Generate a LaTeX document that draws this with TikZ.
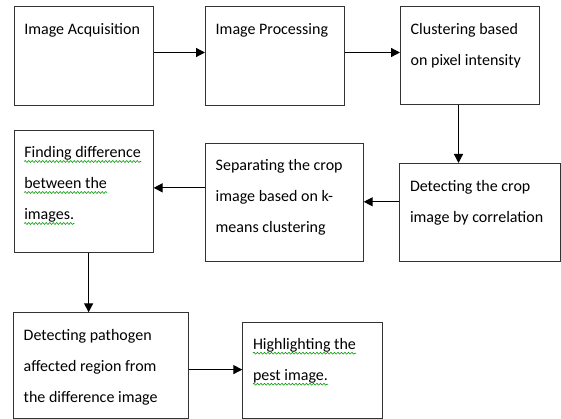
\documentclass[tikz,border=0pt]{standalone}
\usepackage{fontspec}
\setmainfont{Carlito}
\usepackage{tikz}
\usetikzlibrary{arrows.meta,positioning,decorations.pathmorphing}

\begin{document}
\begin{tikzpicture}[x=1pt,y=-1pt,
		pbox/.style={draw=black!80,line width=1pt,inner sep=0pt,anchor=north west},
		ptext/.style={anchor=north west,inner sep=0pt,align=left,font=\fontsize{16}{31}\selectfont},
		wline/.style={anchor=base west,inner sep=0pt,font=\fontsize{16}{31}\selectfont},
		squig/.style={draw=green!60!black,line width=0.6pt,decorate,decoration={snake,segment length=3.5pt,amplitude=0.9pt}},
		flow/.style={-{Triangle[length=9pt,width=9pt]},line width=1.2pt}]
		\useasboundingbox (0,0) rectangle (561,419);
		\node[pbox,minimum width=139pt,minimum height=99pt] (acq) at (13.6,6) {};
		\node[pbox,minimum width=139pt,minimum height=99pt] (proc) at (205,6) {};
		\node[pbox,minimum width=139pt,minimum height=98.3pt] (clus) at (400,6) {};
		\node[pbox,minimum width=139pt,minimum height=122pt] (diff) at (13.6,130) {};
		\node[pbox,minimum width=157.7pt,minimum height=118.3pt] (sep) at (205,142.7) {};
		\node[pbox,minimum width=160.2pt,minimum height=98pt] (det) at (399.3,163) {};
		\node[pbox,minimum width=174.7pt,minimum height=105.2pt] (path) at (13,312.3) {};
		\node[pbox,minimum width=139.7pt,minimum height=95.8pt] (high) at (242.3,321.7) {};
		\node[ptext] (acqtext) at ([shift={(10.5,6.3)}]acq.north west) {\strut Image Acquisition};
		\node[ptext] (proctext) at ([shift={(10.5,6.3)}]proc.north west) {\strut Image Processing};
		\node[ptext] (clustext) at ([shift={(10.5,6.3)}]clus.north west) {\strut Clustering based\\on pixel intensity};
		\node[ptext] (septext) at ([shift={(10.5,6.3)}]sep.north west) {\strut Separating the crop\\image based on k-\\means clustering};
		\node[ptext] (dettext) at ([shift={(10.5,6.3)}]det.north west) {\strut Detecting the crop\\image by correlation};
		\node[ptext] (pathtext) at ([shift={(10.5,6.3)}]path.north west) {\strut Detecting pathogen\\affected region from\\the difference image};
		\node[wline] (diffa) at ([shift={(10.5,28)}]diff.north west) {Finding difference};
		\node[wline] (diffb) at ([yshift=-31pt]diffa.base west) {between the};
		\node[wline] (diffc) at ([yshift=-31pt]diffb.base west) {images.};
		\node[wline] (higha) at ([shift={(10.5,28)}]high.north west) {Highlighting the};
		\node[wline] (highb) at ([yshift=-31pt]higha.base west) {pest image.};
		\foreach \w in {diffa,diffb,diffc,higha,highb} \draw[squig] ([yshift=-3.5pt]\w.base west) -- ([yshift=-3.5pt]\w.base east);
		\draw[flow] ([yshift=3.5pt]acq.east) -- ([yshift=3.5pt]acq.east -| proc.west);
		\draw[flow] ([yshift=3.5pt]proc.east) -- ([yshift=3.5pt]proc.east -| clus.west);
		\draw[flow] ([xshift=-11.5pt]clus.south) -- ([xshift=-11.5pt]clus.south |- det.north);
		\draw[flow] ([yshift=10.7pt]det.west) -- ([yshift=10.7pt]det.west -| sep.east);
		\draw[flow] ([yshift=14.5pt]sep.west) -- ([yshift=14.5pt]sep.west -| diff.east);
		\draw[flow] ([xshift=5pt]diff.south) -- ([xshift=5pt]diff.south |- path.north);
		\draw[flow] ([yshift=-4.2pt]path.east) -- ([yshift=-4.2pt]path.east -| high.west);
	\end{tikzpicture}
\end{document}
